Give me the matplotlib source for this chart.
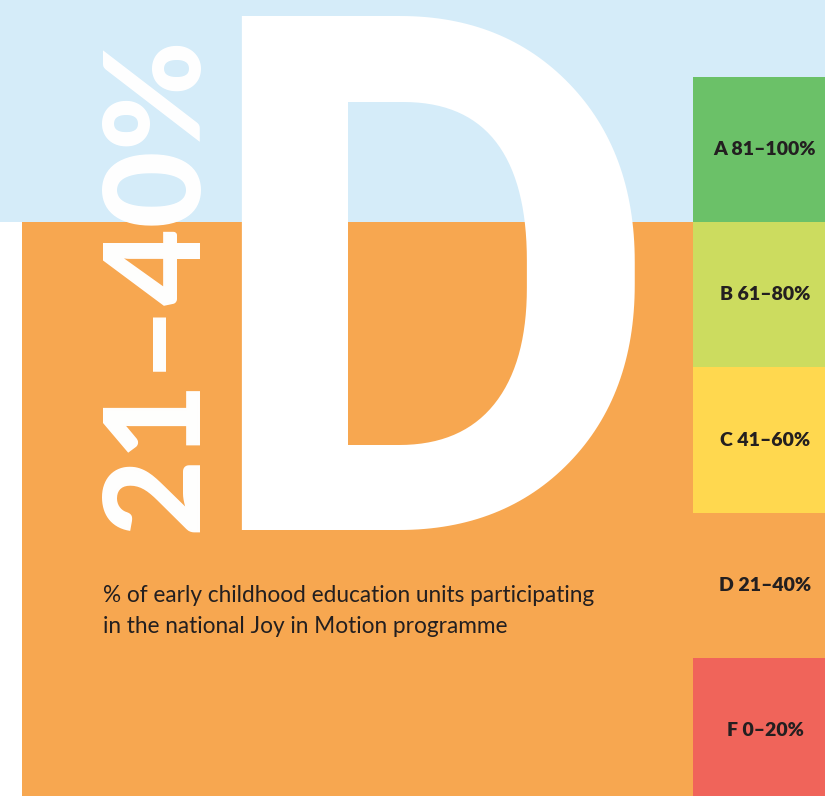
import matplotlib
matplotlib.use("Agg")
import matplotlib.pyplot as plt
from matplotlib.patches import Rectangle

# -----------------------------
# Data
# -----------------------------
grades = ["A", "B", "C", "D", "F"]
grade_ranges = ["81–100%", "61–80%", "41–60%", "21–40%", "0–20%"]
grade_low = [80, 60, 40, 20, 0]
grade_span = [20, 20, 20, 20, 20]
grade_colors = ["#6BC168", "#CCDC5F", "#FFD84F", "#F7A750", "#F0645A"]

result_grade = "D"
result_range = "21–40%"
caption = ("% of early childhood education units participating\n"
           "in the national Joy in Motion programme")

# -----------------------------
# Colors
# -----------------------------
blue = "#D5ECF9"
orange = "#F7A750"
ink = "#231F20"

W, H = 825, 796
fig = plt.figure(figsize=(W / 100, H / 100), dpi=100)

# main canvas in pixel coords
ax = fig.add_axes([0, 0, 1, 1])
ax.set_xlim(0, W)
ax.set_ylim(H, 0)
ax.axis("off")

ax.add_patch(Rectangle((0, 0), W, 222, color=blue, lw=0, zorder=0))
ax.add_patch(Rectangle((22, 222), 693 - 22, H - 222, color=orange, lw=0, zorder=0))

# big grade letter
ax.text(195, 530, result_grade, family="Roboto", fontweight="bold",
        fontsize=520, color="white", ha="left", va="baseline", zorder=2)

# rotated range
ax.text(157, 284, result_range, family="Lato", fontweight="black",
        fontsize=96, color="white", rotation=90, ha="center", va="center",
        zorder=2)

ax.text(103, 611, caption, family="Lato", fontsize=16.3, color=ink,
        ha="left", va="center", linespacing=1.56, zorder=2)

# -----------------------------
# Grade scale
# -----------------------------
top, bottom = 77, 803
axg = fig.add_axes([693 / W, (H - bottom) / H, (W - 693) / W, (bottom - top) / H])
axg.set_xlim(0, 1)
axg.set_ylim(0, 100)
axg.axis("off")
axg.bar(0.5, grade_span, bottom=grade_low, width=1, color=grade_colors,
        linewidth=0)
for g, r, lo, sp in zip(grades, grade_ranges, grade_low, grade_span):
    axg.text(0.545, lo + sp / 2, f"{g} {r}", family="Lato", fontweight="heavy",
             fontsize=14, color=ink, ha="center", va="center")

fig.savefig("out.png", dpi=100)
